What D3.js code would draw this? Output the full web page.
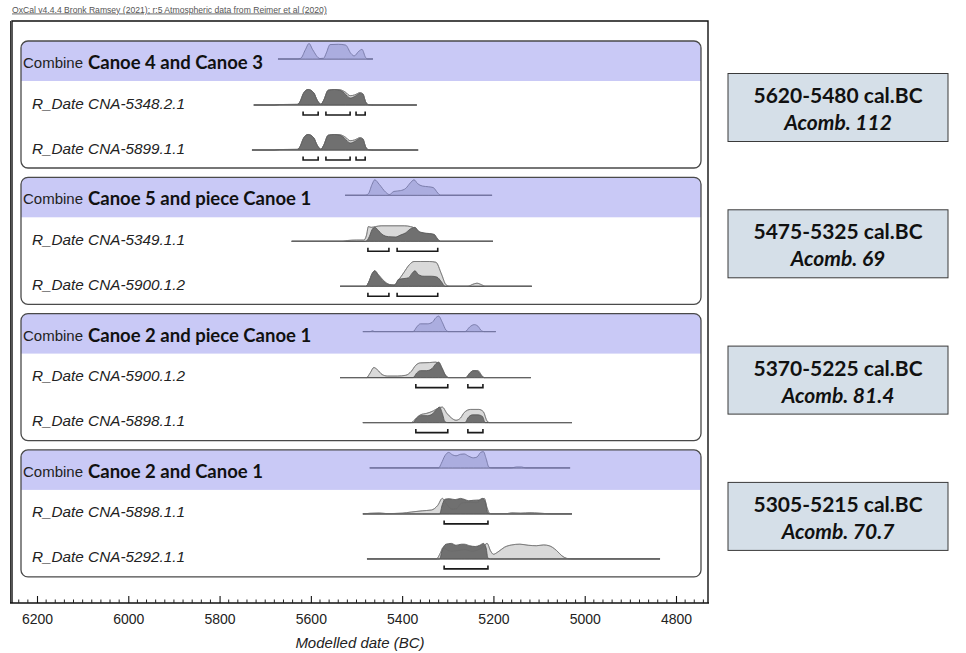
<!DOCTYPE html>
<html>
<head>
<meta charset="utf-8">
<script src="https://cdn.jsdelivr.net/npm/d3@7"></script>
<style>
  body { margin: 0; background: #fff; }
  svg { display: block; }
</style>
</head>
<body>
<svg id="chart" width="966" height="653"></svg>
<script>
// ---- Data -----------------------------------------------------------
const creditLine = "OxCal v4.4.4 Bronk Ramsey (2021); r:5 Atmospheric data from Reimer et al (2020)";
const axisTitle = "Modelled date (BC)";
const tickYears = [6200, 6000, 5800, 5600, 5400, 5200, 5000, 4800];

const groupNames = [
  "Canoe 4 and Canoe 3",
  "Canoe 5 and piece Canoe 1",
  "Canoe 2 and piece Canoe 1",
  "Canoe 2 and Canoe 1"
];
const rowLabels = [
  ["CNA-5348.2.1", "CNA-5899.1.1"],
  ["CNA-5349.1.1", "CNA-5900.1.2"],
  ["CNA-5900.1.2", "CNA-5898.1.1"],
  ["CNA-5898.1.1", "CNA-5292.1.1"]
];
const calRanges = ["5620-5480 cal.BC", "5475-5325 cal.BC", "5370-5225 cal.BC", "5305-5215 cal.BC"];
const acombValues = ["112", "69", "81.4", "70.7"];

// Combined distributions: [year BC, relative probability]
const combineDensity = [
  [[5672,0],[5630,0],[5622,0.05],[5612,0.6],[5604,1.0],[5596,0.6],[5580,0.03],[5572,0.05],[5566,0.4],[5558,0.93],[5540,0.95],[5524,0.9],[5512,0.35],[5505,0.2],[5495,0.5],[5488,0.62],[5480,0.1],[5476,0],[5464,0]],
  [[5525,0],[5482,0],[5474,0.1],[5466,0.7],[5460,1.0],[5450,0.7],[5436,0.2],[5428,0.05],[5418,0.25],[5404,0.3],[5392,0.45],[5382,0.8],[5374,1.0],[5366,0.75],[5356,0.6],[5342,0.55],[5332,0.5],[5322,0.15],[5316,0],[5203,0]],
  [[5486,0],[5470,0],[5465,0.05],[5460,0],[5376,0],[5368,0.3],[5360,0.5],[5345,0.5],[5334,0.6],[5326,0.9],[5320,1.0],[5312,0.6],[5304,0.1],[5298,0],[5262,0],[5252,0.3],[5242,0.45],[5234,0.35],[5226,0.05],[5220,0],[5195,0]],
  [[5471,0],[5320,0],[5314,0.3],[5306,0.8],[5298,1.0],[5290,0.85],[5282,0.78],[5272,0.88],[5264,0.9],[5254,0.75],[5244,0.65],[5236,0.7],[5228,1.0],[5222,1.05],[5216,0.6],[5210,0.05],[5204,0],[5160,0],[5150,0.06],[5138,0.06],[5130,0],[5032,0]]
];

// Individual dates: calibrated likelihood (light) and posterior (dark)
const likelihoods = [
  [
    [[5725,0],[5680,0],[5668,0.03],[5630,0.04],[5624,0.2],[5616,0.75],[5606,1.0],[5594,0.8],[5586,0.3],[5578,0.05],[5572,0.3],[5562,0.95],[5548,1.0],[5536,0.98],[5524,0.82],[5514,0.6],[5504,0.65],[5492,0.8],[5486,0.72],[5480,0.2],[5474,0.02],[5466,0],[5368,0]],
    [[5729,0],[5680,0],[5668,0.03],[5630,0.04],[5624,0.2],[5616,0.75],[5606,1.0],[5594,0.8],[5586,0.3],[5578,0.05],[5572,0.3],[5562,0.95],[5548,1.0],[5536,0.98],[5524,0.82],[5514,0.6],[5504,0.65],[5492,0.8],[5486,0.72],[5480,0.2],[5474,0.02],[5466,0],[5365,0]]
  ],
  [
    [[5642,0],[5530,0],[5520,0.05],[5500,0.08],[5484,0.08],[5478,0.4],[5474,0.95],[5468,0.9],[5458,0.95],[5446,1.0],[5420,1.0],[5395,1.0],[5382,0.95],[5372,0.85],[5362,0.6],[5350,0.5],[5334,0.45],[5324,0.15],[5316,0],[5201,0]],
    [[5536,0],[5480,0],[5472,0.35],[5466,0.8],[5460,1.0],[5452,0.75],[5440,0.35],[5428,0.12],[5418,0.08],[5408,0.4],[5396,0.9],[5384,1.4],[5374,1.6],[5360,1.6],[5340,1.6],[5326,1.55],[5314,0.8],[5304,0.1],[5296,0],[5256,0],[5246,0.12],[5236,0.2],[5226,0.1],[5218,0],[5116,0]]
  ],
  [
    [[5536,0],[5478,0],[5470,0.3],[5462,0.65],[5454,0.5],[5444,0.2],[5432,0.1],[5410,0.1],[5392,0.15],[5380,0.4],[5370,0.8],[5360,0.95],[5340,0.97],[5326,1.0],[5316,0.7],[5306,0.2],[5298,0],[5260,0],[5254,0.2],[5244,0.45],[5234,0.45],[5226,0.15],[5220,0],[5118,0]],
    [[5486,0],[5380,0],[5372,0.2],[5360,0.5],[5346,0.6],[5332,0.75],[5320,0.95],[5312,1.0],[5302,0.6],[5292,0.3],[5282,0.15],[5272,0.3],[5264,0.65],[5250,0.85],[5232,0.85],[5222,0.7],[5214,0.1],[5208,0],[5028,0]]
  ],
  [
    [[5486,0],[5470,0.04],[5450,0.06],[5434,0.02],[5400,0.05],[5380,0.12],[5356,0.2],[5336,0.25],[5322,0.55],[5312,1.0],[5302,0.6],[5290,0.3],[5280,0.35],[5270,0.7],[5250,0.75],[5236,0.72],[5226,0.95],[5220,1.0],[5214,0.4],[5208,0.02],[5170,0.02],[5160,0.07],[5140,0.05],[5120,0.08],[5100,0.05],[5085,0.02],[5075,0],[5028,0]],
    [[5477,0],[5325,0],[5316,0.4],[5310,0.75],[5300,0.55],[5290,0.5],[5276,0.55],[5262,0.6],[5248,0.5],[5232,0.6],[5222,0.8],[5214,1.0],[5206,0.5],[5200,0.3],[5190,0.45],[5176,0.75],[5160,0.9],[5142,0.95],[5124,0.88],[5106,0.85],[5090,0.9],[5078,0.85],[5062,0.55],[5050,0.2],[5040,0.04],[5030,0],[4835,0]]
  ]
];

const posteriors = [
  [
    [[5725,0],[5680,0],[5668,0.03],[5630,0.04],[5624,0.2],[5616,0.78],[5606,1.0],[5594,0.8],[5586,0.3],[5578,0.05],[5572,0.3],[5562,0.95],[5548,1.0],[5536,0.95],[5524,0.7],[5514,0.45],[5504,0.55],[5492,0.75],[5486,0.7],[5480,0.2],[5474,0.02],[5466,0],[5368,0]],
    [[5729,0],[5680,0],[5668,0.03],[5630,0.04],[5624,0.2],[5616,0.78],[5606,1.0],[5594,0.8],[5586,0.3],[5578,0.05],[5572,0.3],[5562,0.95],[5548,1.0],[5536,0.95],[5524,0.7],[5514,0.45],[5504,0.55],[5492,0.75],[5486,0.7],[5480,0.2],[5474,0.02],[5466,0],[5365,0]]
  ],
  [
    [[5642,0],[5480,0],[5472,0.3],[5466,0.75],[5460,0.9],[5452,0.7],[5444,0.45],[5430,0.3],[5414,0.28],[5404,0.4],[5392,0.55],[5382,0.8],[5372,0.9],[5364,0.65],[5354,0.55],[5340,0.5],[5330,0.45],[5322,0.15],[5316,0],[5201,0]],
    [[5536,0],[5480,0],[5472,0.35],[5466,0.8],[5460,1.0],[5452,0.7],[5440,0.3],[5428,0.1],[5416,0.08],[5408,0.45],[5396,0.5],[5386,0.55],[5378,0.85],[5372,1.0],[5364,0.75],[5352,0.65],[5336,0.65],[5324,0.6],[5314,0.3],[5306,0],[5116,0]]
  ],
  [
    [[5536,0],[5376,0],[5368,0.3],[5360,0.45],[5346,0.45],[5334,0.6],[5326,0.9],[5320,1.0],[5312,0.6],[5304,0.1],[5298,0],[5260,0],[5252,0.3],[5242,0.45],[5234,0.4],[5226,0.1],[5220,0],[5118,0]],
    [[5486,0],[5376,0],[5368,0.3],[5360,0.45],[5344,0.45],[5334,0.55],[5326,0.8],[5318,1.0],[5312,0.6],[5306,0.05],[5300,0],[5262,0],[5256,0.3],[5246,0.5],[5234,0.5],[5224,0.4],[5218,0],[5028,0]]
  ],
  [
    [[5486,0],[5318,0],[5312,0.6],[5306,0.95],[5296,0.98],[5284,0.92],[5272,1.0],[5262,0.92],[5254,0.85],[5244,0.88],[5232,0.9],[5224,1.0],[5218,0.8],[5212,0.05],[5206,0],[5028,0]],
    [[5477,0],[5318,0],[5312,0.6],[5304,0.95],[5292,1.0],[5282,0.88],[5270,0.95],[5264,0.95],[5252,0.85],[5240,0.8],[5230,0.88],[5222,1.0],[5216,0.7],[5212,0.05],[5206,0],[4835,0]]
  ]
];

// 95.4% highest posterior density ranges [from, to] BC
const hpdRanges = [
  [[5617,5584],[5567,5514],[5501,5481]],
  [[5475,5429],[5411,5322]],
  [[5370,5300],[5256,5223]],
  [[5308,5212]]
];

// ---- Layout ---------------------------------------------------------
const svg = d3.select("#chart");
const frame = { left: 12, right: 708, top: 21, bottom: 603 };
const panel = { left: 21, right: 701, firstTop: 41, pitch: 136.3, height: 127, header: 40 };

const x = d3.scaleLinear().domain([6200, 4800]).range([37, 676]);
const h = d3.scaleLinear().domain([0, 1]).range([0, 15.5]);

const sans = "'Liberation Sans', Arial, sans-serif";
const boldFace = "Lato, 'Open Sans', sans-serif";

// credit line
svg.append("text")
  .attr("x", 12).attr("y", 12.5)
  .attr("font-family", sans).attr("font-size", 8.6)
  .attr("fill", "#555")
  .attr("text-decoration", "underline")
  .text(creditLine);

const defs = svg.append("defs");

function areaAt(base) {
  return d3.area()
    .x(d => x(d[0]))
    .y0(base)
    .y1(d => base - h(d[1]))
    .curve(d3.curveMonotoneX);
}
function lineAt(base) {
  return d3.line()
    .x(d => x(d[0]))
    .y(d => base - h(d[1]))
    .curve(d3.curveMonotoneX);
}

groupNames.forEach((name, gi) => {
  const top = panel.firstTop + gi * panel.pitch;
  const g = svg.append("g");

  // rounded panel clip so the header band follows the corners
  const clipId = "panel-clip-" + gi;
  defs.append("clipPath").attr("id", clipId)
    .append("rect")
    .attr("x", panel.left).attr("y", top)
    .attr("width", panel.right - panel.left).attr("height", panel.height)
    .attr("rx", 7);

  g.append("rect")
    .attr("x", panel.left).attr("y", top)
    .attr("width", panel.right - panel.left).attr("height", panel.height)
    .attr("rx", 7).attr("fill", "#fff");

  g.append("rect")
    .attr("clip-path", `url(#${clipId})`)
    .attr("x", panel.left).attr("y", top)
    .attr("width", panel.right - panel.left).attr("height", panel.header)
    .attr("fill", "#c9c9f6");

  // header label
  const ht = g.append("text")
    .attr("x", 23).attr("y", top + 21)
    .attr("dominant-baseline", "central");
  ht.append("tspan")
    .attr("font-family", sans).attr("font-size", 15).attr("fill", "#222")
    .text("Combine");
  ht.append("tspan")
    .attr("dx", 5)
    .attr("font-family", boldFace).attr("font-weight", 700).attr("font-size", 18.5).attr("fill", "#111")
    .text(name);

  // combined distribution
  const hBase = top + 18;
  const cd = combineDensity[gi];
  g.append("line")
    .attr("x1", x(cd[0][0])).attr("x2", x(cd[cd.length - 1][0]))
    .attr("y1", hBase).attr("y2", hBase)
    .attr("stroke", "#6a6a8c").attr("stroke-width", 1);
  g.append("path").datum(cd)
    .attr("d", areaAt(hBase))
    .attr("fill", "#abaddf").attr("stroke", "#7476a4").attr("stroke-width", 0.9);

  // individual dates
  [64, 109].forEach((off, ri) => {
    const base = top + off;
    const lk = likelihoods[gi][ri];
    const ps = posteriors[gi][ri];

    g.append("text")
      .attr("x", 32).attr("y", base - 2)
      .attr("dominant-baseline", "central")
      .attr("font-family", sans).attr("font-style", "italic").attr("font-size", 15.3)
      .attr("fill", "#222")
      .text("R_Date " + rowLabels[gi][ri]);

    g.append("line")
      .attr("x1", x(lk[0][0])).attr("x2", x(lk[lk.length - 1][0]))
      .attr("y1", base).attr("y2", base)
      .attr("stroke", "#555").attr("stroke-width", 1);

    g.append("path").datum(lk)
      .attr("d", areaAt(base))
      .attr("fill", "#d9d9d9").attr("stroke", "#a0a0a0").attr("stroke-width", 0.9);
    g.append("path").datum(ps)
      .attr("d", areaAt(base))
      .attr("fill", "#707070").attr("stroke", "#505050").attr("stroke-width", 0.8);
    g.append("path").datum(lk)
      .attr("d", lineAt(base))
      .attr("fill", "none").attr("stroke", "#6a6a6a").attr("stroke-width", 0.7);

    const by = base + 10;
    hpdRanges[gi].forEach(r => {
      g.append("path")
        .attr("d", `M${x(r[0])},${by - 3.5}V${by}H${x(r[1])}V${by - 3.5}`)
        .attr("fill", "none").attr("stroke", "#1a1a1a").attr("stroke-width", 1.6);
    });
  });

  g.append("rect")
    .attr("x", panel.left).attr("y", top)
    .attr("width", panel.right - panel.left).attr("height", panel.height)
    .attr("rx", 7).attr("fill", "none")
    .attr("stroke", "#4a4a4a").attr("stroke-width", 1.3);

  // summary box
  const cy = top + panel.height / 2 + 3;
  const box = svg.append("g");
  box.append("rect")
    .attr("x", 728).attr("y", cy - 34)
    .attr("width", 220).attr("height", 68)
    .attr("fill", "#d5dfe8").attr("stroke", "#3a3a3a").attr("stroke-width", 1);
  box.append("text")
    .attr("x", 838).attr("y", cy - 13)
    .attr("text-anchor", "middle").attr("dominant-baseline", "central")
    .attr("font-family", boldFace).attr("font-weight", 700).attr("font-size", 21)
    .attr("fill", "#111")
    .text(calRanges[gi]);
  box.append("text")
    .attr("x", 838).attr("y", cy + 14)
    .attr("text-anchor", "middle").attr("dominant-baseline", "central")
    .attr("font-family", boldFace).attr("font-weight", 700).attr("font-style", "italic").attr("font-size", 21)
    .attr("fill", "#111")
    .text("Acomb. " + acombValues[gi]);
});

// ---- Frame and axis -------------------------------------------------
svg.append("path")
  .attr("d", `M${frame.left},${frame.bottom}V${frame.top}H${frame.right}V${frame.bottom}`)
  .attr("fill", "none").attr("stroke", "#111").attr("stroke-width", 1.4);
svg.append("line")
  .attr("x1", frame.left - 1.5).attr("x2", frame.left - 1.5)
  .attr("y1", frame.top).attr("y2", frame.bottom)
  .attr("stroke", "#333").attr("stroke-width", 1);

const minorYears = d3.range(6240, 4730, -20);
const axisG = svg.append("g").attr("transform", `translate(0,${frame.bottom})`);
axisG.append("line")
  .attr("x1", frame.left - 2).attr("x2", frame.right + 1)
  .attr("stroke", "#111").attr("stroke-width", 1.6);
axisG.selectAll("line.minor").data(minorYears.filter(v => !tickYears.includes(v)))
  .join("line").attr("class", "minor")
  .attr("x1", d => x(d)).attr("x2", d => x(d))
  .attr("y1", 0).attr("y2", -3.5)
  .attr("stroke", "#222").attr("stroke-width", 1);

const axis = d3.axisBottom(x).tickValues(tickYears).tickSize(-7).tickPadding(11).tickFormat(d3.format("d"));
const ag = axisG.append("g").call(axis);
ag.select(".domain").remove();
ag.selectAll(".tick line").attr("stroke", "#111").attr("stroke-width", 1.1);
ag.selectAll(".tick text")
  .attr("font-family", sans).attr("font-size", 14).attr("fill", "#222");

svg.append("text")
  .attr("x", (frame.left + frame.right) / 2).attr("y", 642)
  .attr("text-anchor", "middle").attr("dominant-baseline", "central")
  .attr("font-family", sans).attr("font-style", "italic").attr("font-size", 15)
  .attr("fill", "#222")
  .text(axisTitle);
</script>
</body>
</html>
